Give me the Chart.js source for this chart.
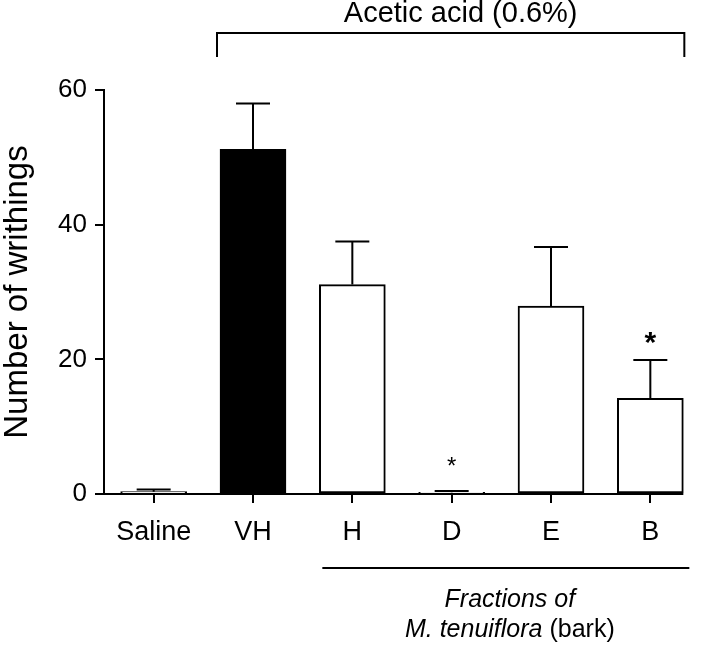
<!DOCTYPE html>
<html>
<head>
<meta charset="utf-8">
<script src="https://cdn.jsdelivr.net/npm/chart.js@4.4.1/dist/chart.umd.min.js"></script>
<style>
  html, body { margin: 0; padding: 0; background: #fff; }
  #wrap { width: 702px; height: 651px; position: relative; }
</style>
</head>
<body>
<div id="wrap"><canvas id="writhingChart"></canvas></div>
<script>
// dados
const groups = ['Saline', 'VH', 'H', 'D', 'E', 'B'];
const writhings = [0.35, 51.2, 31.1, 0.25, 27.9, 14.2];
const semValues = [0.3, 6.8, 6.4, 0.2, 8.8, 5.7];
const significance = ['', '', '', '*', '', '*'];
const barColors = ['#ffffff', '#000000', '#ffffff', '#ffffff', '#ffffff', '#ffffff'];
const yTicks = [0, 20, 40, 60];

const FONT = "'Liberation Sans', Arial, sans-serif";

const annotationsPlugin = {
    id: 'annotations',
    afterDatasetsDraw: function (chart) {
        const ctx = chart.ctx;
        const meta = chart.getDatasetMeta(0);
        const y = chart.scales.y;
        const area = chart.chartArea;
        ctx.save();
        ctx.strokeStyle = '#000';
        ctx.fillStyle = '#000';
        ctx.lineWidth = 2;

        // barras de erro (só para cima)
        meta.data.forEach(function (bar, i) {
            const top = y.getPixelForValue(writhings[i] + semValues[i]);
            ctx.beginPath();
            ctx.moveTo(bar.x, bar.y);
            ctx.lineTo(bar.x, top);
            ctx.moveTo(bar.x - 17, top);
            ctx.lineTo(bar.x + 17, top);
            ctx.stroke();

            if (significance[i]) {
                const big = writhings[i] > 5;
                ctx.font = (big ? 'bold 30px ' : '24px ') + FONT;
                ctx.textAlign = 'center';
                ctx.textBaseline = 'middle';
                ctx.fillText(significance[i], bar.x, top - (big ? 16 : 24));
            }
        });

        // eixo x termina na borda da última barra
        const last = meta.data[meta.data.length - 1];
        ctx.beginPath();
        ctx.moveTo(area.left - 1, area.bottom);
        ctx.lineTo(last.x + last.width / 2, area.bottom);
        ctx.stroke();

        // chave "Acetic acid"
        const vh = meta.data[1];
        const bx0 = vh.x - vh.width / 2 - 3;
        const bx1 = last.x + last.width / 2 + 1;
        const by = area.top - 57;
        ctx.beginPath();
        ctx.moveTo(bx0, by + 24);
        ctx.lineTo(bx0, by);
        ctx.lineTo(bx1, by);
        ctx.lineTo(bx1, by + 24);
        ctx.stroke();
        ctx.font = '29px ' + FONT;
        ctx.textAlign = 'center';
        ctx.textBaseline = 'alphabetic';
        ctx.fillText('Acetic acid (0.6%)', (bx0 + bx1) / 2 + 10, by - 11);

        // linha das frações
        const h = meta.data[2];
        const lx0 = h.x - 30;
        const lx1 = last.x + 39;
        const ly = area.bottom + 74;
        ctx.beginPath();
        ctx.moveTo(lx0, ly);
        ctx.lineTo(lx1, ly);
        ctx.stroke();

        const cx = (lx0 + lx1) / 2 + 4;
        ctx.font = 'italic 25px ' + FONT;
        ctx.fillText('Fractions of', cx, ly + 39);
        const p1 = 'M. tenuiflora';
        const p2 = ' (bark)';
        ctx.font = 'italic 25px ' + FONT;
        const w1 = ctx.measureText(p1).width;
        ctx.font = '25px ' + FONT;
        const w2 = ctx.measureText(p2).width;
        const sx = cx - (w1 + w2) / 2;
        ctx.textAlign = 'left';
        ctx.font = 'italic 25px ' + FONT;
        ctx.fillText(p1, sx, ly + 69);
        ctx.font = '25px ' + FONT;
        ctx.fillText(p2, sx + w1, ly + 69);
        ctx.restore();
    }
};

new Chart(document.getElementById('writhingChart'), {
    type: 'bar',
    data: {
        labels: groups,
        datasets: [{
            data: writhings,
            backgroundColor: barColors,
            borderColor: '#000',
            borderWidth: 2,
            borderSkipped: false,
            barThickness: 66
        }]
    },
    options: {
        responsive: true,
        maintainAspectRatio: false,
        animation: false,
        layout: {
            padding: { top: 90, right: 2, left: 0, bottom: 0 }
        },
        plugins: {
            legend: { display: false },
            tooltip: { enabled: false }
        },
        scales: {
            x: {
                offset: true,
                afterFit: function (scale) { scale.height = 157; },
                border: { display: false },
                grid: {
                    offset: false,
                    drawOnChartArea: false,
                    drawTicks: true,
                    tickLength: 9,
                    color: '#000',
                    lineWidth: 2
                },
                ticks: {
                    color: '#000',
                    padding: 13,
                    font: { family: FONT, size: 27 }
                }
            },
            y: {
                min: 0,
                max: 60,
                afterFit: function (scale) { scale.width = 104; },
                afterBuildTicks: function (scale) {
                    scale.ticks = yTicks.map(function (v) { return { value: v }; });
                },
                border: { display: true, color: '#000', width: 2 },
                grid: {
                    drawOnChartArea: false,
                    drawTicks: true,
                    tickLength: 9,
                    color: '#000',
                    lineWidth: 2
                },
                ticks: {
                    color: '#000',
                    padding: 8,
                    font: { family: FONT, size: 26 }
                },
                title: {
                    display: true,
                    text: 'Number of writhings',
                    color: '#000',
                    padding: { top: 0, bottom: 0 },
                    font: { family: FONT, size: 33, lineHeight: 1.1 }
                }
            }
        }
    },
    plugins: [annotationsPlugin]
});
</script>
</body>
</html>
